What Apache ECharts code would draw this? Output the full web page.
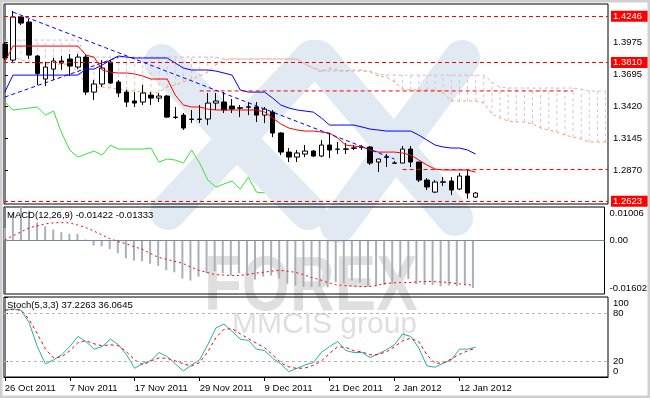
<!DOCTYPE html>
<html>
<head>
<meta charset="utf-8">
<script src="https://cdn.jsdelivr.net/npm/echarts@6/dist/echarts.min.js"></script>
<style>
html, body { margin: 0; padding: 0; background: #fff; }
#chart { width: 650px; height: 398px; }
</style>
</head>
<body>
<div id="chart"></div>
<script>
// daily bars, index 0 = 26 Oct 2011
const dateIdx = [0, 8, 16, 24, 32, 40, 48, 56];
const dateLabels = ['26 Oct 2011', '7 Nov 2011', '17 Nov 2011', '29 Nov 2011', '9 Dec 2011', '21 Dec 2011', '2 Jan 2012', '12 Jan 2012'];

const open = [1.3960, 1.3822, 1.4194, 1.4151, 1.3857, 1.3658, 1.3744, 1.3814, 1.3831, 1.3762,
  1.3848, 1.3545, 1.3615, 1.3805, 1.3632, 1.3545, 1.3468, 1.3459, 1.3519, 1.3493,
  1.3511, 1.3329, 1.3346, 1.3312, 1.3308, 1.3312, 1.3450, 1.3459, 1.3424, 1.3409,
  1.3414, 1.3416, 1.3346, 1.3372, 1.3191, 1.3026, 1.2983, 1.3009, 1.3035, 1.2992,
  1.3087, 1.3052, 1.3050, 1.3058, 1.3065, 1.3070, 1.2940, 1.2985, 1.2929, 1.2931,
  1.3052, 1.2940, 1.2784, 1.2680, 1.2765, 1.2776, 1.2706, 1.2819, 1.2637];
const close = [1.3840, 1.4194, 1.4142, 1.3865, 1.3705, 1.3762, 1.3814, 1.3796, 1.3770, 1.3848,
  1.3545, 1.3615, 1.3753, 1.3623, 1.3537, 1.3459, 1.3450, 1.3537, 1.3493, 1.3511,
  1.3329, 1.3325, 1.3234, 1.3308, 1.3312, 1.3450, 1.3468, 1.3390, 1.3398, 1.3405,
  1.3418, 1.3346, 1.3398, 1.3191, 1.3026, 1.2983, 1.3018, 1.3035, 1.2992, 1.3087,
  1.3044, 1.3050, 1.3054, 1.3063, 1.3068, 1.2931, 1.2966, 1.2981, 1.2933, 1.3052,
  1.2940, 1.2784, 1.2724, 1.2767, 1.2769, 1.2698, 1.2819, 1.2672, 1.2672];
const low = [1.3822, 1.3805, 1.4125, 1.3831, 1.3606, 1.3597, 1.3649, 1.3736, 1.3684, 1.3744,
  1.3519, 1.3476, 1.3589, 1.3615, 1.3502, 1.3416, 1.3416, 1.3433, 1.3433, 1.3459,
  1.3321, 1.3312, 1.3217, 1.3277, 1.3277, 1.3260, 1.3390, 1.3364, 1.3364, 1.3329,
  1.3346, 1.3286, 1.3277, 1.3156, 1.3000, 1.2940, 1.2940, 1.2983, 1.2983, 1.2983,
  1.2975, 1.3009, 1.3009, 1.3044, 1.3044, 1.2914, 1.2853, 1.2897, 1.2923, 1.2931,
  1.2897, 1.2767, 1.2698, 1.2672, 1.2732, 1.2654, 1.2698, 1.2623, 1.2628];
const high = [1.3978, 1.4246, 1.4203, 1.4177, 1.3865, 1.3805, 1.3840, 1.3857, 1.3874, 1.3874,
  1.3874, 1.3649, 1.3822, 1.3822, 1.3649, 1.3563, 1.3545, 1.3606, 1.3545, 1.3537,
  1.3519, 1.3416, 1.3364, 1.3390, 1.3433, 1.3537, 1.3537, 1.3545, 1.3485, 1.3433,
  1.3459, 1.3459, 1.3416, 1.3390, 1.3199, 1.3061, 1.3044, 1.3087, 1.3044, 1.3130,
  1.3191, 1.3113, 1.3104, 1.3087, 1.3087, 1.3078, 1.2966, 1.3009, 1.2949, 1.3078,
  1.3078, 1.2940, 1.2801, 1.2784, 1.2810, 1.2810, 1.2845, 1.2871, 1.2680];

// ichimoku
const tenkan = [1.3805, 1.3943, 1.3943, 1.3943, 1.3943, 1.3943, 1.3943, 1.3943, 1.3943, 1.3943,
  1.3865, 1.3848, 1.3736, 1.3718, 1.3710, 1.3710, 1.3701, 1.3684, 1.3658, 1.3658,
  1.3658, 1.3519, 1.3433, 1.3416, 1.3416, 1.3398, 1.3390, 1.3390, 1.3390, 1.3390,
  1.3390, 1.3390, 1.3372, 1.3321, 1.3269, 1.3234, 1.3217, 1.3208, 1.3208, 1.3199,
  1.3191, 1.3147, 1.3087, 1.3078, 1.3070, 1.3044, 1.3026, 1.3026, 1.3026, 1.3018,
  1.3000, 1.2957, 1.2914, 1.2879, 1.2871, 1.2871, 1.2871, 1.2871, 1.2853];
const kijun = [1.3545, 1.3692, 1.3692, 1.3692, 1.3692, 1.3692, 1.3692, 1.3692, 1.3692, 1.3692,
  1.3744, 1.3744, 1.3779, 1.3822, 1.3857, 1.3848, 1.3840, 1.3840, 1.3840, 1.3840,
  1.3840, 1.3796, 1.3753, 1.3736, 1.3736, 1.3736, 1.3727, 1.3710, 1.3692, 1.3563,
  1.3545, 1.3545, 1.3545, 1.3493, 1.3433, 1.3407, 1.3390, 1.3381, 1.3372, 1.3321,
  1.3260, 1.3260, 1.3260, 1.3260, 1.3243, 1.3225, 1.3217, 1.3208, 1.3208, 1.3208,
  1.3208, 1.3173, 1.3130, 1.3087, 1.3070, 1.3061, 1.3061, 1.3044, 1.3009];
const chikou = [1.3459, 1.3390, 1.3398, 1.3407, 1.3416, 1.3346, 1.3381, 1.3191, 1.3044, 1.2983,
  1.3009, 1.3035, 1.3000, 1.3087, 1.3052, 1.3052, 1.3052, 1.3052, 1.3061, 1.2940,
  1.2966, 1.2957, 1.2931, 1.3044, 1.2931, 1.2784, 1.2724, 1.2750, 1.2776, 1.2706,
  1.2810, 1.2680, 1.2672];
const spanA = [1.3857, 1.3848, 1.3822, 1.3805, 1.3796, 1.3787, 1.3787, 1.3787, 1.3787, 1.3718,
  1.3615, 1.3589, 1.3589, 1.3580, 1.3571, 1.3563, 1.3554, 1.3545, 1.3537, 1.3545,
  1.3589, 1.3606, 1.3632, 1.3658, 1.3684, 1.3718, 1.3779, 1.3822, 1.3831, 1.3831,
  1.3831, 1.3831, 1.3831, 1.3831, 1.3831, 1.3831, 1.3831, 1.3787, 1.3753, 1.3718,
  1.3753, 1.3736, 1.3727, 1.3736, 1.3736, 1.3718, 1.3684, 1.3675, 1.3632, 1.3571,
  1.3563, 1.3563, 1.3563, 1.3563, 1.3537, 1.3468, 1.3468, 1.3468, 1.3468, 1.3450,
  1.3355, 1.3321, 1.3295, 1.3286, 1.3286, 1.3269, 1.3234, 1.3217, 1.3199, 1.3173,
  1.3156, 1.3139, 1.3113, 1.3113, 1.3113];
const spanB = [1.3995, 1.3995, 1.3995, 1.3995, 1.3995, 1.3995, 1.3995, 1.3995, 1.3995, 1.3995,
  1.3848, 1.3848, 1.3848, 1.3848, 1.3848, 1.3848, 1.3848, 1.3848, 1.3848, 1.3848,
  1.3848, 1.3848, 1.3848, 1.3848, 1.3848, 1.3848, 1.3848, 1.3831, 1.3831, 1.3831,
  1.3831, 1.3831, 1.3831, 1.3831, 1.3831, 1.3831, 1.3831, 1.3787, 1.3753, 1.3736,
  1.3727, 1.3727, 1.3727, 1.3727, 1.3727, 1.3727, 1.3701, 1.3692, 1.3692, 1.3692,
  1.3692, 1.3692, 1.3692, 1.3692, 1.3692, 1.3692, 1.3692, 1.3692, 1.3692, 1.3692,
  1.3632, 1.3589, 1.3580, 1.3580, 1.3580, 1.3580, 1.3580, 1.3580, 1.3580, 1.3580,
  1.3580, 1.3571, 1.3554, 1.3554, 1.3554];

// drawn objects: price levels and trend lines
const fullLevels = [1.4246, 1.3810, 1.2623];
const partLevels = [[24, 70, 1.3555], [49, 74.3, 1.2875]];
const trendLines = [[1, 1.4237, 48, 1.2966], [0, 1.3502, 14, 1.3848]];
const priceTicks = [1.2870, 1.3145, 1.3420, 1.3695, 1.3975];

// MACD(12,26,9)
const macd = [0.0038, 0.0080, 0.0100, 0.0090, 0.0054, 0.0043, 0.0033, 0.0025, 0.0020, 0.0020,
  0.0003, -0.0015, -0.0017, -0.0026, -0.0038, -0.0053, -0.0060, -0.0062, -0.0069, -0.0076,
  -0.0089, -0.0095, -0.0114, -0.0120, -0.0108, -0.0098, -0.0092, -0.0098, -0.0105, -0.0098,
  -0.0105, -0.0117, -0.0108, -0.0105, -0.0114, -0.0129, -0.0135, -0.0139, -0.0139, -0.0138,
  -0.0140, -0.0125, -0.0129, -0.0120, -0.0126, -0.0137, -0.0137, -0.0133, -0.0130, -0.0110,
  -0.0115, -0.0130, -0.0133, -0.0133, -0.0137, -0.0135, -0.0137, -0.0130, -0.01422];
const macdSignal = [0.0002, 0.0014, 0.0026, 0.0038, 0.0044, 0.0050, 0.0053, 0.0054, 0.0053, 0.0047,
  0.0039, 0.0029, 0.0017, 0.0006, -0.0003, -0.0009, -0.0018, -0.0026, -0.0038, -0.0050,
  -0.0056, -0.0062, -0.0068, -0.0079, -0.0089, -0.0095, -0.0102, -0.0103, -0.0105, -0.0105,
  -0.0102, -0.0098, -0.0095, -0.0092, -0.0089, -0.0092, -0.0095, -0.0102, -0.0111, -0.0117,
  -0.0126, -0.0132, -0.0135, -0.0136, -0.0138, -0.0138, -0.0135, -0.0129, -0.0127, -0.0126,
  -0.0126, -0.0124, -0.0123, -0.0123, -0.0124, -0.0126, -0.0129, -0.0132, -0.01333];
const macdRange = [-0.01602, 0.01006];

// Stoch(5,3,3)
const stochK = [83.4, 85.2, 83.4, 67.9, 38.1, 16.4, 21.4, 27.7, 38.1, 50.7,
  44.4, 34.8, 38.1, 47.4, 40.3, 27.7, 10.9, 17.2, 20.5, 30.6,
  25.5, 16.4, 7.5, 15.1, 21.4, 40.3, 61.3, 66.3, 57.0, 47.4,
  45.7, 34.8, 33.1, 23.5, 16.4, 6.7, 10.9, 15.1, 18.0, 30.8,
  38.1, 44.4, 33.1, 30.6, 30.6, 24.3, 28.9, 34.0, 40.3, 53.7,
  50.7, 36.1, 13.8, 12.2, 17.2, 21.4, 34.8, 34.8, 37.2263];
const stochD = [83.6, 84.3, 83.6, 71.7, 54.1, 35.2, 23.9, 25.2, 32.7, 42.8,
  45.3, 41.5, 39.0, 40.3, 39.0, 31.4, 21.4, 15.1, 20.1, 23.9,
  23.3, 20.1, 16.4, 13.8, 18.2, 31.4, 49.1, 59.7, 60.4, 54.1,
  47.8, 42.1, 36.5, 27.7, 17.6, 12.6, 10.7, 11.3, 14.5, 20.1,
  29.6, 37.7, 37.1, 32.7, 31.4, 27.7, 28.3, 31.4, 37.7, 45.3,
  48.4, 44.0, 27.7, 17.0, 17.6, 22.6, 28.3, 32.7, 36.0645];
const stochLevels = [80, 20];

const font = '"Liberation Sans", Arial, sans-serif';
const pts = arr => arr.map((v, i) => [i, v]);

let chart = echarts.init(document.getElementById('chart'));

const xCommon = { type: 'value', min: -0.1, max: 74.3, splitLine: { show: false } };
const edgeLabel = (top, bottom, digits) => v => {
  const s = v.toFixed(digits);
  if (v === top) return '{t|' + s + '}';
  if (v === bottom) return '{b|' + s + '}';
  return s;
};
const edgeRich = { t: { padding: [12, 0, 0, 0] }, b: { padding: [0, 0, 12, 0] } };
const wm = '#e1e9f2';

// short straight objects (partial levels, trend lines) as two-point line series
const segment = (x1, y1, x2, y2, color) => ({
  type: 'line', xAxisIndex: 0, yAxisIndex: 0, z: 5, silent: true, showSymbol: false, symbol: 'none',
  data: [[x1, y1], [x2, y2]], lineStyle: { color: color, width: 1, type: [4, 3] }
});

chart.setOption({
  animation: false,
  backgroundColor: '#fff',
  textStyle: { fontFamily: font },
  title: [
    { text: 'MACD(12,26,9) ' + macd[macd.length - 1].toFixed(5) + ' ' + macdSignal[macdSignal.length - 1].toFixed(5),
      left: 7, top: 210, padding: 0,
      textStyle: { fontSize: 9.5, fontWeight: 'normal', color: '#000', fontFamily: font } },
    { text: 'Stoch(5,3,3) ' + stochK[stochK.length - 1].toFixed(4) + ' ' + stochD[stochD.length - 1].toFixed(4),
      left: 7, top: 300, padding: 0,
      textStyle: { fontSize: 9.5, fontWeight: 'normal', color: '#000', fontFamily: font } }
  ],
  // MMCIS watermark behind the panels
  graphic: [
    { type: 'polyline', z: -5, silent: true, shape: { points: [[162, 62], [308, 212]] },
      style: { stroke: wm, lineWidth: 36, lineCap: 'round', fill: null } },
    { type: 'polyline', z: -5, silent: true, shape: { points: [[312, 58], [168, 212]] },
      style: { stroke: wm, lineWidth: 36, lineCap: 'round', fill: null } },
    { type: 'polyline', z: -5, silent: true, shape: { points: [[318, 58], [455, 218]] },
      style: { stroke: wm, lineWidth: 36, lineCap: 'round', fill: null } },
    { type: 'polyline', z: -5, silent: true, shape: { points: [[462, 58], [338, 225]] },
      style: { stroke: wm, lineWidth: 36, lineCap: 'round', fill: null } },
    { type: 'text', z: -4, silent: true, x: 204, y: 250, scaleY: 1.25,
      style: { text: 'FOREX', font: 'bold 62px ' + font, fill: 'rgba(150,150,150,0.3)' } },
    { type: 'text', z: -4, silent: true, x: 232, y: 310,
      style: { text: 'MMCIS group', font: '30px ' + font, fill: 'rgba(150,150,150,0.3)' } },
    { type: 'rect', z: 10, silent: true, shape: { x: 1, y: 1, width: 648, height: 396 },
      style: { fill: null, stroke: '#d0d0d0', lineWidth: 3 } }
  ],
  grid: [
    { left: 4, top: 4, width: 604, height: 200, show: true, borderColor: '#000', borderWidth: 1, backgroundColor: 'transparent' },
    { left: 4, top: 207, width: 604, height: 87, show: true, borderColor: '#000', borderWidth: 1, backgroundColor: 'transparent' },
    { left: 4, top: 297, width: 604, height: 80, show: true, borderColor: '#000', borderWidth: 1, backgroundColor: 'transparent' }
  ],
  xAxis: [
    Object.assign({ gridIndex: 0, show: false }, xCommon),
    Object.assign({ gridIndex: 1, show: false }, xCommon),
    Object.assign({
      gridIndex: 2,
      axisLine: { show: true, lineStyle: { color: '#000' } },
      axisTick: { show: true, length: 4, customValues: dateIdx, lineStyle: { color: '#000' } },
      axisLabel: {
        customValues: dateIdx, align: 'left', margin: 6, fontSize: 9.5, color: '#000', fontFamily: font,
        formatter: v => dateLabels[dateIdx.indexOf(Math.round(v))] || ''
      }
    }, xCommon)
  ],
  yAxis: [
    { type: 'value', gridIndex: 0, position: 'right', min: 1.2577, max: 1.4307, scale: true,
      splitLine: { show: false },
      axisLine: { show: true, lineStyle: { color: '#6f7d8c', width: 1 } },
      axisTick: { show: true, length: 3, customValues: priceTicks, lineStyle: { color: '#000' } },
      axisLabel: { customValues: priceTicks, margin: 5, fontSize: 9.5, color: '#000', fontFamily: font,
        formatter: v => v.toFixed(4) } },
    { type: 'value', gridIndex: 1, position: 'right', min: macdRange[0], max: macdRange[1],
      splitLine: { show: false },
      axisLine: { show: true, lineStyle: { color: '#6f7d8c', width: 1 } },
      axisTick: { show: true, length: 3, customValues: [0], lineStyle: { color: '#000' } },
      axisLabel: { customValues: [macdRange[1], 0, macdRange[0]], margin: 5, fontSize: 9.5, color: '#000', fontFamily: font,
        formatter: v => {
          if (v === 0) return '0.00';
          return edgeLabel(macdRange[1], macdRange[0], 5)(v);
        }, rich: edgeRich } },
    { type: 'value', gridIndex: 2, position: 'right', min: 0, max: 100,
      splitLine: { show: false },
      axisLine: { show: true, lineStyle: { color: '#6f7d8c', width: 1 } },
      axisTick: { show: true, length: 3, customValues: [100, 80, 20, 0], lineStyle: { color: '#000' } },
      axisLabel: { customValues: [100, 80, 20, 0], margin: 5, fontSize: 9.5, color: '#000', fontFamily: font,
        formatter: edgeLabel(100, 0, 0), rich: edgeRich } }
  ],
  series: [
    // cloud hatching between the two spans
    {
      type: 'custom', xAxisIndex: 0, yAxisIndex: 0, z: 1, silent: true,
      data: spanA.map((a, i) => [i, a, spanB[i]]),
      renderItem: (params, api) => {
        const p1 = api.coord([api.value(0), api.value(1)]);
        const p2 = api.coord([api.value(0), api.value(2)]);
        return { type: 'line', shape: { x1: p1[0], y1: p1[1], x2: p2[0], y2: p2[1] },
          style: { stroke: '#d6c3da', lineWidth: 1, lineDash: [3, 3] } };
      }
    },
    { name: 'Senkou A', type: 'line', xAxisIndex: 0, yAxisIndex: 0, z: 2, data: pts(spanA), showSymbol: false,
      lineStyle: { color: '#f4a460', width: 1, type: [3, 3] } },
    { name: 'Senkou B', type: 'line', xAxisIndex: 0, yAxisIndex: 0, z: 2, data: pts(spanB), showSymbol: false,
      lineStyle: { color: '#d2b4d6', width: 1, type: [3, 3] } },
    {
      name: 'Price', type: 'candlestick', xAxisIndex: 0, yAxisIndex: 0, z: 3, barWidth: 5,
      data: open.map((o, i) => [i, o, close[i], low[i], high[i]]),
      itemStyle: { color: '#fff', color0: '#000', borderColor: '#000', borderColor0: '#000', borderColorDoji: '#000', borderWidth: 1 },
      markLine: {
        silent: true, symbol: ['none', 'none'], animation: false,
        lineStyle: { color: '#ff0000', type: [4, 3], width: 1 },
        data: fullLevels.map(v => ({
          yAxis: v,
          label: { show: true, position: 'end', distance: 3, formatter: v.toFixed(4),
            backgroundColor: '#ff0000', color: '#fff', fontSize: 9.5, fontFamily: font,
            padding: [1, 9, 0, 2], lineHeight: 10 }
        }))
      }
    },
    ...partLevels.map(l => segment(l[0], l[2], l[1], l[2], '#ff0000')),
    ...trendLines.map(t => segment(t[0], t[1], t[2], t[3], '#0000ff')),
    { name: 'Tenkan', type: 'line', xAxisIndex: 0, yAxisIndex: 0, z: 4, data: pts(tenkan), showSymbol: false,
      lineStyle: { color: '#ff0000', width: 1 } },
    { name: 'Kijun', type: 'line', xAxisIndex: 0, yAxisIndex: 0, z: 4, data: pts(kijun), showSymbol: false,
      lineStyle: { color: '#0000ff', width: 1 } },
    { name: 'Chikou', type: 'line', xAxisIndex: 0, yAxisIndex: 0, z: 4, data: pts(chikou), showSymbol: false,
      lineStyle: { color: '#33e633', width: 1 } },

    // MACD panel
    { name: 'MACD', type: 'bar', xAxisIndex: 1, yAxisIndex: 1, z: 2, barWidth: 2, data: pts(macd),
      itemStyle: { color: '#a9b0ba' },
      markLine: { silent: true, symbol: ['none', 'none'], label: { show: false },
        data: [{ yAxis: 0 }], lineStyle: { color: '#7c8896', type: 'solid', width: 1 } } },
    { name: 'Signal', type: 'line', xAxisIndex: 1, yAxisIndex: 1, z: 3, data: pts(macdSignal), showSymbol: false,
      lineStyle: { color: '#ff0000', width: 1, type: [2, 3] } },

    // Stochastic panel
    { name: '%K', type: 'line', xAxisIndex: 2, yAxisIndex: 2, z: 3, data: pts(stochK), showSymbol: false,
      lineStyle: { color: '#20b2aa', width: 1 },
      markLine: { silent: true, symbol: ['none', 'none'], label: { show: false },
        data: stochLevels.map(v => ({ yAxis: v })), lineStyle: { color: '#b4b4b4', type: [3, 3], width: 1 } } },
    { name: '%D', type: 'line', xAxisIndex: 2, yAxisIndex: 2, z: 3, data: pts(stochD), showSymbol: false,
      lineStyle: { color: '#ff0000', width: 1, type: [3, 3] } }
  ]
});
</script>
</body>
</html>
